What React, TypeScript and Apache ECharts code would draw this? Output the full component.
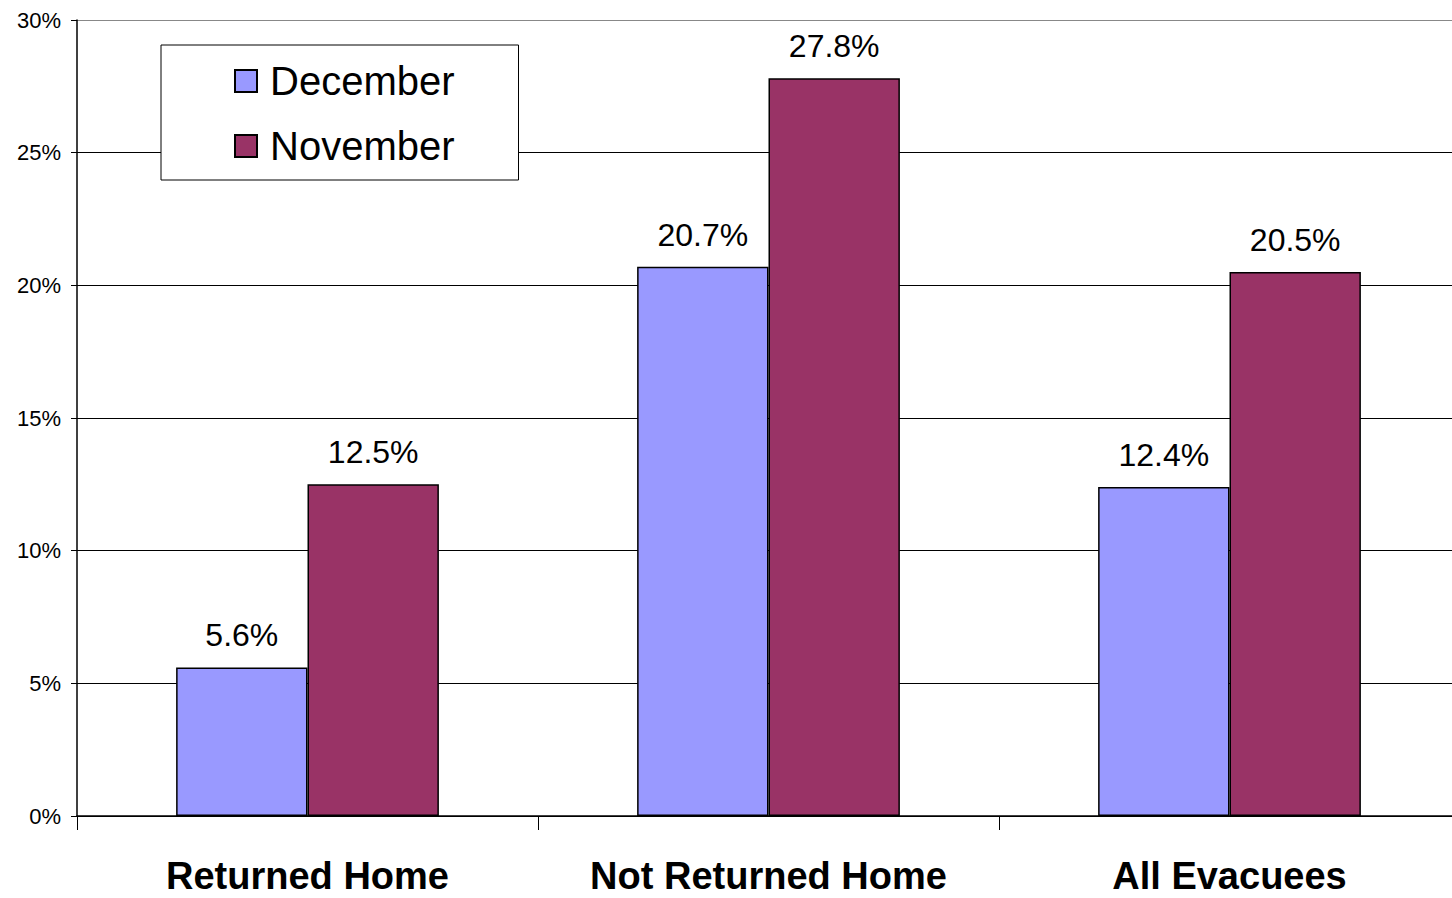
import React, { useEffect, useRef } from "react";
import * as echarts from "echarts";

const categories = ["Returned Home", "Not Returned Home", "All Evacuees"];
const december = [5.6, 20.7, 12.4];
const november = [12.5, 27.8, 20.5];
const seriesNames = ["December", "November"];
const FONT = "'Liberation Sans', Arial, sans-serif";

export default function App() {
  const ref = useRef<HTMLDivElement>(null);
  useEffect(() => {
    const chart = echarts.init(ref.current!, null, { renderer: "svg" });
    const label = {
      show: true,
      position: "top",
      distance: 16,
      fontSize: 32,
      fontFamily: FONT,
      color: "#000",
      formatter: (p: any) => p.value.toFixed(1) + "%",
    };
    chart.setOption({
      animation: false,
      backgroundColor: "#fff",
      textStyle: { fontFamily: FONT },
      grid: { left: 77, right: 0, top: 20, bottom: 82, containLabel: false },
      legend: {
        orient: "vertical",
        left: 161,
        top: 45,
        padding: [16, 64, 14, 73],
        itemGap: 25,
        itemWidth: 22,
        itemHeight: 22,
        icon: "rect",
        backgroundColor: "#fff",
        borderColor: "#000",
        borderWidth: 1,
        textStyle: { fontSize: 40, fontFamily: FONT, color: "#000", padding: [0, 0, 0, 8] },
        data: seriesNames,
      },
      xAxis: {
        type: "category",
        data: categories,
        axisLine: { lineStyle: { color: "#000", width: 1.5 } },
        axisTick: { show: true, length: 14, lineStyle: { color: "#000" } },
        axisLabel: {
          interval: 0,
          fontSize: 38,
          lineHeight: 36,
          fontWeight: "bold",
          fontFamily: FONT,
          color: "#000",
          margin: 42,
        },
      },
      yAxis: {
        type: "value",
        min: 0,
        max: 30,
        interval: 5,
        axisLine: { show: true, lineStyle: { color: "#000", width: 1.5 } },
        axisTick: { show: true, length: 6, lineStyle: { color: "#000" } },
        axisLabel: {
          fontSize: 22,
          fontFamily: FONT,
          color: "#000",
          margin: 16,
          formatter: (v: number) => v + "%",
        },
        splitLine: {
          show: true,
          lineStyle: {
            color: ["#000", "#000", "#000", "#000", "#000", "#000", "#888"],
            width: 1,
          },
        },
      },
      series: [
        {
          name: seriesNames[0],
          type: "bar",
          data: december,
          barGap: "0%",
          barCategoryGap: "43%",
          itemStyle: { color: "#9999FF", borderColor: "#000", borderWidth: 1.5 },
          label,
        },
        {
          name: seriesNames[1],
          type: "bar",
          data: november,
          barGap: "0%",
          barCategoryGap: "43%",
          itemStyle: { color: "#993366", borderColor: "#000", borderWidth: 1.5 },
          label,
        },
      ],
    });
    return () => chart.dispose();
  }, []);
  return (
    <div
      ref={ref}
      style={{ position: "fixed", left: 0, top: 0, width: 1460, height: 898 }}
    />
  );
}
